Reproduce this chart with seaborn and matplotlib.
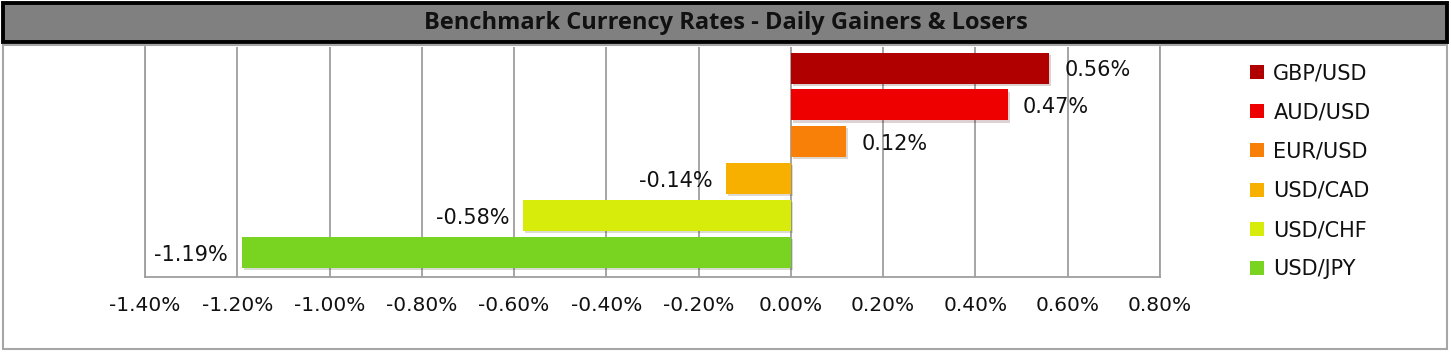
import numpy as np
import pandas as pd
import matplotlib
matplotlib.use("Agg")
import matplotlib.pyplot as plt
import matplotlib.patches as mpatches
import matplotlib.patheffects as pe
from matplotlib.ticker import MultipleLocator, FuncFormatter
import seaborn as sns

pairs = ["GBP/USD", "AUD/USD", "EUR/USD", "USD/CAD", "USD/CHF", "USD/JPY"]
changes = [0.56, 0.47, 0.12, -0.14, -0.58, -1.19]
colors = ["#B00000", "#EE0000", "#F88008", "#F8B000", "#D8EC0C", "#78D420"]
title = "Benchmark Currency Rates - Daily Gainers & Losers"

df = pd.DataFrame({"pair": pairs, "change": changes})

sns.set_style("white")
plt.rcParams["font.family"] = ["DejaVu Sans"]

W, H = 1451, 354
fig = plt.figure(figsize=(W / 100, H / 100), dpi=100)

def fx(px):
    return px / W

def fy(py):
    return 1 - py / H

# title bar
fig.patches.append(mpatches.Rectangle((fx(3), fy(42)), fx(1444), 39 / H,
                                      transform=fig.transFigure, facecolor="#808080",
                                      edgecolor="black", linewidth=2.8, zorder=0))
fig.text(0.5, fy(23), title, ha="center", va="center", fontsize=17,
         fontweight="bold", family=["Open Sans", "DejaVu Sans"], color="#111111")

# chart area border
fig.patches.append(mpatches.Rectangle((fx(3), fy(349)), fx(1444), 304 / H,
                                      transform=fig.transFigure, facecolor="none",
                                      edgecolor="#A6A6A6", linewidth=1.5, zorder=0))

ax = fig.add_axes([fx(145), fy(277), fx(1160 - 145), (277 - 47) / H])
sns.barplot(data=df, x="change", y="pair", hue="pair", palette=colors,
            saturation=1, dodge=False, width=0.84, orient="h", legend=True,
            linewidth=0, ax=ax, zorder=3)

for p in ax.patches:
    p.set_path_effects([pe.SimplePatchShadow(offset=(1.5, -1.5), alpha=0.18), pe.Normal()])

ax.set_xlim(-1.4, 0.8)
ax.set_ylim(5.66, -0.57)
ax.xaxis.set_major_locator(MultipleLocator(0.2))
ax.xaxis.set_major_formatter(FuncFormatter(lambda v, _: f"{v:.2f}%"))
ax.grid(axis="x", color="#9E9E9E", linewidth=1.3, zorder=0)
ax.set_axisbelow(True)
ax.set_xlabel("")
ax.set_ylabel("")
ax.set_yticks([])
ax.tick_params(axis="x", length=0, pad=14, labelsize=14.5, labelcolor="#111111")
for s in ["left", "bottom", "right"]:
    ax.spines[s].set_color("#9E9E9E")
    ax.spines[s].set_linewidth(1.3)
ax.spines["top"].set_visible(False)

for cont in ax.containers:
    for bar, v in zip(cont, cont.datavalues):
        if np.isnan(v) or bar.get_width() == 0:
            continue
        y = bar.get_y() + bar.get_height() / 2
        if v >= 0:
            ax.annotate(f"{v:.2f}%", (v, y), xytext=(11, -1.5), textcoords="offset points",
                        ha="left", va="center", fontsize=15, color="#111111")
        else:
            ax.annotate(f"{v:.2f}%", (v, y), xytext=(-10, -1.5), textcoords="offset points",
                        ha="right", va="center", fontsize=15, color="#111111")

handles = [mpatches.Patch(facecolor=c, edgecolor="none") for c in colors]
ax.legend(handles, pairs, loc="upper left", bbox_to_anchor=(fx(1240), fy(53)),
          bbox_transform=fig.transFigure, frameon=False, fontsize=15,
          handlelength=0.65, handleheight=0.65, handletextpad=0.45,
          labelspacing=0.92, borderpad=0, labelcolor="#111111")

fig.savefig("out.png", dpi=100)
